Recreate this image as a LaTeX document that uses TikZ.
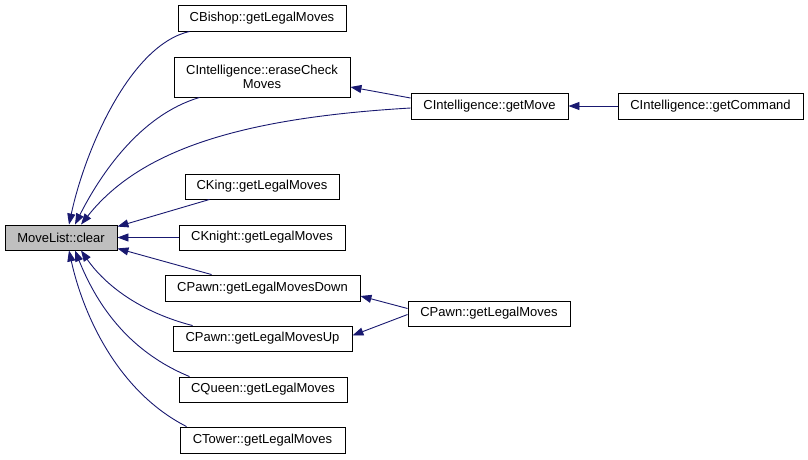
\documentclass[tikz,border=0pt]{standalone}
\usepackage{fontspec}
\setmainfont{Liberation Sans}
\usetikzlibrary{arrows.meta}
\definecolor{edgeblue}{HTML}{191970}
\definecolor{boxgray}{HTML}{BFBFBF}
\tikzset{
  fn/.style={draw=black, line width=0.9pt, fill=white, inner sep=0pt, align=center,
    font=\fontsize{13}{14.5}\selectfont},
  edge/.style={draw=edgeblue, line width=0.9pt, -{Triangle[length=11pt,width=8pt]}, fill=none},
}
\begin{document}
\begin{tikzpicture}[x=1pt,y=-1pt]
\useasboundingbox (0,0) rectangle (808,459);
\node[fn, fill=boxgray, minimum width=112pt, minimum height=25pt] (clear) at (61,237.5) {MoveList::clear};
\node[fn, minimum width=168pt, minimum height=26pt] (bishop) at (262,18) {CBishop::getLegalMoves};
\node[fn, minimum width=176pt, minimum height=40pt] (erase) at (262,77) {CIntelligence::eraseCheck\\Moves};
\node[fn, minimum width=154pt, minimum height=25pt] (king) at (262,186.5) {CKing::getLegalMoves};
\node[fn, minimum width=166pt, minimum height=25pt] (knight) at (262,237.5) {CKnight::getLegalMoves};
\node[fn, minimum width=195pt, minimum height=26pt] (pdown) at (262.5,288) {CPawn::getLegalMovesDown};
\node[fn, minimum width=179pt, minimum height=25pt] (pup) at (262.5,338.5) {CPawn::getLegalMovesUp};
\node[fn, minimum width=168pt, minimum height=25pt] (queen) at (263,389.5) {CQueen::getLegalMoves};
\node[fn, minimum width=165pt, minimum height=26pt] (tower) at (262.5,440) {CTower::getLegalMoves};
\node[fn, minimum width=157pt, minimum height=26pt] (getmove) at (489.5,106) {CIntelligence::getMove};
\node[fn, minimum width=185pt, minimum height=26pt] (getcmd) at (710.5,106) {CIntelligence::getCommand};
\node[fn, minimum width=162pt, minimum height=25pt] (plegal) at (489,313.5) {CPawn::getLegalMoves};

% edges into MoveList::clear
\draw[edge] ([xshift=12pt]bishop.south west) .. controls (130,45) and (85,150) .. ([xshift=8pt]clear.north);
\draw[edge] ([xshift=26pt]erase.south west) .. controls (140,115) and (100,175) .. ([xshift=14pt]clear.north);
\draw[edge] ([yshift=-2pt]getmove.west) .. controls (240,118) and (140,150) .. ([xshift=20pt]clear.north);
\draw[edge] ([xshift=25pt]king.south west) -- ([yshift=-2pt]clear.north east);
\draw[edge] (knight.west) -- (clear.east);
\draw[edge] ([xshift=47pt]pdown.north west) -- ([yshift=2pt]clear.south east);
\draw[edge] ([xshift=20pt]pup.north west) .. controls (140,312) and (105,285) .. ([xshift=20pt]clear.south);
\draw[edge] ([xshift=11pt]queen.north west) .. controls (125,350) and (95,300) .. ([xshift=14pt]clear.south);
\draw[edge] ([xshift=7pt]tower.north west) .. controls (115,390) and (82,310) .. ([xshift=8pt]clear.south);

% other edges
\draw[edge] (getcmd.west) -- (getmove.east);
\draw[edge] ([yshift=8pt]getmove.west) -- ([yshift=-10pt]erase.east);
\draw[edge] ([yshift=5pt]plegal.west) -- ([yshift=-8pt]pdown.east);
\draw[edge] ([yshift=-1pt]plegal.west) -- ([yshift=3pt]pup.east);
\end{tikzpicture}
\end{document}
